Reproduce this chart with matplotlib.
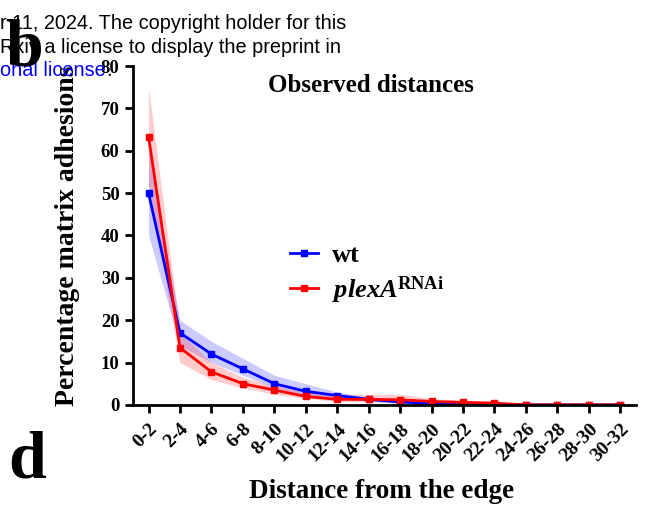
import matplotlib.pyplot as plt

plt.rcParams['font.family'] = 'Liberation Serif'
plt.rcParams['mathtext.fontset'] = 'custom'
plt.rcParams['mathtext.rm'] = 'Liberation Serif'
plt.rcParams['mathtext.bf'] = 'Liberation Serif:bold'
plt.rcParams['mathtext.it'] = 'Liberation Serif:italic'
plt.rcParams['mathtext.bfit'] = 'Liberation Serif:italic:bold'

categories = ['0-2', '2-4', '4-6', '6-8', '8-10', '10-12', '12-14', '14-16',
              '16-18', '18-20', '20-22', '22-24', '24-26', '26-28', '28-30', '30-32']

wt_mean = [50, 17, 12, 8.5, 5, 3.2, 2.2, 1.3, 0.7, 0.3, 0.2, 0.1, 0, 0, 0, 0]
wt_low = [40, 14, 10, 7, 4, 2.5, 1.5, 0.8, 0.3, 0.1, 0, 0, 0, 0, 0, 0]
wt_high = [60, 20, 15, 11, 7, 5, 3, 1.8, 1, 0.5, 0.4, 0.2, 0, 0, 0, 0]

plexa_mean = [63.3, 13.5, 7.8, 5, 3.5, 2, 1.3, 1.3, 1.2, 0.8, 0.6, 0.4, 0, 0, 0, 0]
plexa_low = [52, 10, 6, 4, 2.5, 1.5, 0.8, 0.8, 0.5, 0.3, 0.2, 0.1, 0, 0, 0, 0]
plexa_high = [75, 17, 10, 6.5, 4.5, 3, 2.5, 2.5, 2.5, 1.5, 1, 0.8, 0, 0, 0, 0]

x = list(range(len(categories)))

fig = plt.figure(figsize=(6.51, 5.08), dpi=100)
ax = fig.add_axes([0.204, 0.203, 0.773, 0.667])

ax.fill_between(x, wt_low, wt_high, color='#3333ff', alpha=0.25, lw=0)
ax.fill_between(x, plexa_low, plexa_high, color='#ff3333', alpha=0.25, lw=0)
ax.plot(x, wt_mean, color='#0000ff', lw=2, marker='s', ms=4, label='wt')
ax.plot(x, plexa_mean, color='#ff0000', lw=2, marker='s', ms=4,
        label=r'$\mathbfit{plexA}^{\mathbf{RNAi}}$')

ax.set_xlim(-0.5, 15.5)
ax.set_ylim(0, 80)
ax.set_yticks(range(0, 81, 10))
ax.set_xticks(x)
ax.set_xticklabels(categories, rotation=45, ha='right', rotation_mode='anchor',
                   fontsize=14, fontweight='bold')
for lab in ax.get_yticklabels():
    lab.set_fontsize(13.5)
    lab.set_fontweight('bold')

for s in ['top', 'right']:
    ax.spines[s].set_visible(False)
for s in ['left', 'bottom']:
    ax.spines[s].set_linewidth(2)
ax.tick_params(width=2, length=6, direction='out')
ax.tick_params(axis='x', pad=5)

ax.text(0.473, 0.944, 'Observed distances', transform=ax.transAxes, fontsize=18,
        fontweight='bold', ha='center', va='center')
ax.set_xlabel('Distance from the edge', fontsize=19.5, fontweight='bold')
ax.xaxis.set_label_coords(0.495, -0.22)
ax.set_ylabel('Percentage matrix adhesions', fontsize=20, fontweight='bold')
ax.yaxis.set_label_coords(-0.105, 0.5)

ax.legend(loc='center left', bbox_to_anchor=(0.312, 0.385), frameon=False,
          prop={'size': 19, 'weight': 'bold'}, handlelength=1.05,
          handletextpad=0.55, labelspacing=0.25, borderpad=0, borderaxespad=0)

# overlaid preprint text and panel letters
sans = 'Liberation Sans'
fig.text(0.0, 0.953, 'r 11, 2024. The copyright holder for this', family=sans,
         fontsize=14.3, va='center')
fig.text(0.0, 0.907, 'Rxiv a license to display the preprint in', family=sans,
         fontsize=14.3, va='center')
lic = fig.text(0.0, 0.862, 'onal license', family=sans, fontsize=14.3,
               va='center', color='#0000ff')
fig.canvas.draw()
bb = lic.get_window_extent()
fig.text(bb.x1 / fig.bbox.width, 0.862, '.', family=sans, fontsize=14.3, va='center')
fig.text(0.008, 0.872, 'b', fontsize=49, fontweight='bold', zorder=5)
fig.text(0.012, 0.06, 'd', fontsize=49, fontweight='bold')

plt.savefig('out.png', dpi=100)
plt.close()
